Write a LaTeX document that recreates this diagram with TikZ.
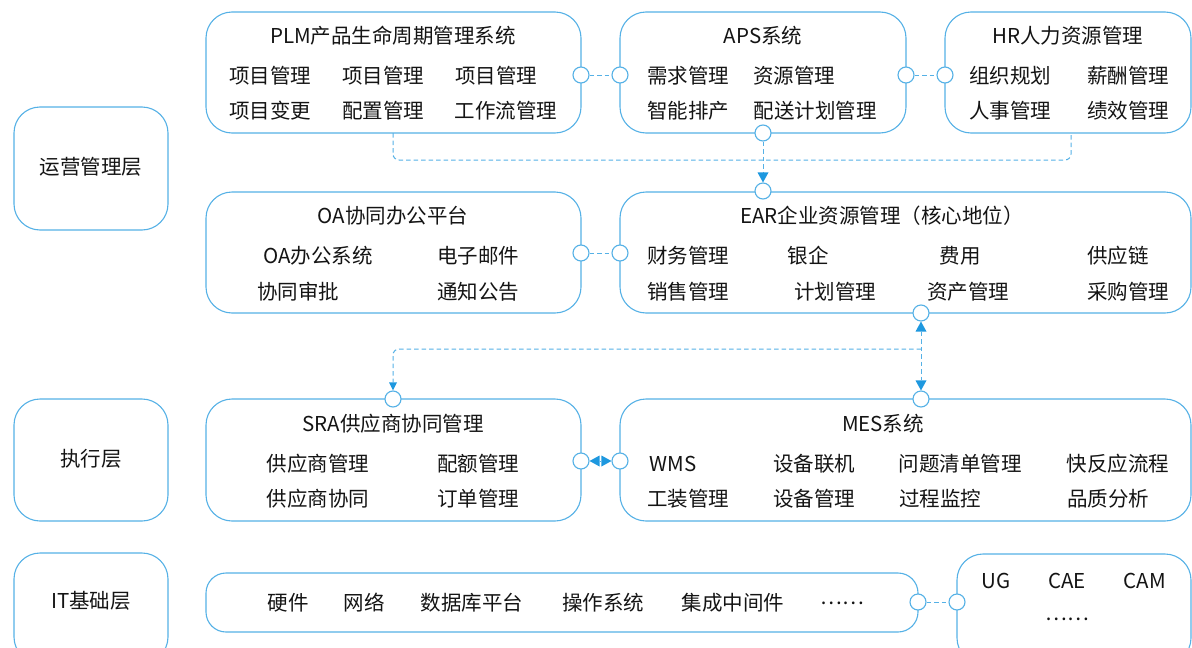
\documentclass[tikz,border=0pt]{standalone}
\usepackage{fontspec}
\setmainfont{Noto Sans CJK SC}
\usetikzlibrary{arrows.meta}
\definecolor{bl}{HTML}{55B1E6}
\definecolor{ar}{HTML}{1E98DF}
\definecolor{tk}{HTML}{141414}
\begin{document}
\begin{tikzpicture}[x=1pt,y=-1pt,
  box/.style={draw=bl, line width=1.1pt, rounded corners=26pt, fill=white, rectangle, inner sep=0pt},
  port/.style={circle, draw=bl, fill=white, line width=1.1pt, minimum size=16pt, inner sep=0pt},
  link/.style={draw=bl, dash pattern=on 4.5pt off 3pt, line width=1pt},
  tipa/.style={-{Triangle[width=11pt,length=10pt,fill=ar,color=ar,line width=0pt]}},
  tipb/.style={{Triangle[width=11pt,length=10pt,fill=ar,color=ar,line width=0pt]}-{Triangle[width=11pt,length=10pt,fill=ar,color=ar,line width=0pt]}},
  tx/.style={font=\fontsize{20.5}{24}\selectfont, text=tk, inner sep=0pt},
  ttl/.style={font=\fontsize{20.5}{24}\selectfont, text=tk, inner sep=0pt}]
\useasboundingbox (0,0) rectangle (1192,648);

% layer labels
\node[box, minimum width=154pt, minimum height=123pt] (l1) at (91,168.5) {};
\node[ttl] (l1t) at (91,167) {运营管理层};
\node[box, minimum width=154pt, minimum height=122pt] (l2) at (91,460) {};
\node[ttl] (l2t) at (91,459) {执行层};
\node[box, minimum width=154pt, minimum height=110pt] (l3) at (91,608) {};
\node[ttl] (l3t) at (91,601) {IT基础层};

% PLM
\node[box, minimum width=375pt, minimum height=121pt] (plm) at (393.5,72.5) {};
\node[ttl] (plmt) at (393,36) {PLM产品生命周期管理系统};
\node[tx] (plm1) at (270,76) {项目管理};
\node[tx] (plm2) at (383,76) {项目管理};
\node[tx] (plm3) at (496,76) {项目管理};
\node[tx] (plm4) at (270,111) {项目变更};
\node[tx] (plm5) at (383,111) {配置管理};
\node[tx] (plm6) at (506,111) {工作流管理};

% APS
\node[box, minimum width=286pt, minimum height=121pt] (aps) at (763,72.5) {};
\node[ttl] (apst) at (763,36) {APS系统};
\node[tx] (aps1) at (688,76) {需求管理};
\node[tx] (aps2) at (794,76) {资源管理};
\node[tx] (aps3) at (688,111) {智能排产};
\node[tx] (aps4) at (815,111) {配送计划管理};

% HR
\node[box, minimum width=246pt, minimum height=121pt] (hr) at (1068,72.5) {};
\node[ttl] (hrt) at (1068,36) {HR人力资源管理};
\node[tx] (hr1) at (1010,76) {组织规划};
\node[tx] (hr2) at (1128,76) {薪酬管理};
\node[tx] (hr3) at (1010,111) {人事管理};
\node[tx] (hr4) at (1128,111) {绩效管理};

% OA
\node[box, minimum width=375pt, minimum height=121pt] (oa) at (393.5,252.5) {};
\node[ttl] (oat) at (393,216) {OA协同办公平台};
\node[tx] (oa1) at (318,256) {OA办公系统};
\node[tx] (oa2) at (478,256) {电子邮件};
\node[tx] (oa3) at (298,292) {协同审批};
\node[tx] (oa4) at (478,292) {通知公告};

% EAR
\node[box, minimum width=571pt, minimum height=121pt] (ear) at (905.5,252.5) {};
\node[ttl] (eart) at (882,216) {EAR企业资源管理（核心地位）};
\node[tx] (ear1) at (688,256) {财务管理};
\node[tx] (ear2) at (808,256) {银企};
\node[tx] (ear3) at (960,256) {费用};
\node[tx] (ear4) at (1118,256) {供应链};
\node[tx] (ear5) at (688,292) {销售管理};
\node[tx] (ear6) at (835,292) {计划管理};
\node[tx] (ear7) at (968,292) {资产管理};
\node[tx] (ear8) at (1128,292) {采购管理};

% SRA
\node[box, minimum width=375pt, minimum height=122pt] (sra) at (393.5,460) {};
\node[ttl] (srat) at (393,424) {SRA供应商协同管理};
\node[tx] (sra1) at (318,464) {供应商管理};
\node[tx] (sra2) at (478,464) {配额管理};
\node[tx] (sra3) at (318,499) {供应商协同};
\node[tx] (sra4) at (478,499) {订单管理};

% MES
\node[box, minimum width=571pt, minimum height=122pt] (mes) at (905.5,460) {};
\node[ttl] (mest) at (883,424) {MES系统};
\node[tx] (mes1) at (673,464) {WMS};
\node[tx] (mes2) at (814,464) {设备联机};
\node[tx] (mes3) at (960,464) {问题清单管理};
\node[tx] (mes4) at (1118,464) {快反应流程};
\node[tx] (mes5) at (688,499) {工装管理};
\node[tx] (mes6) at (814,499) {设备管理};
\node[tx] (mes7) at (940,499) {过程监控};
\node[tx] (mes8) at (1108,499) {品质分析};

% IT
\node[box, rounded corners=20pt, minimum width=712pt, minimum height=59pt] (it) at (562,602.5) {};
\node[tx] (it1) at (288,603) {硬件};
\node[tx] (it2) at (364,603) {网络};
\node[tx] (it3) at (472,603) {数据库平台};
\node[tx] (it4) at (603,603) {操作系统};
\node[tx] (it5) at (733,603) {集成中间件};
\node[tx] (it6) at (842,603) {……};

% UG
\node[box, minimum width=234pt, minimum height=110pt] (ug) at (1074,609) {};
\node[tx] (ug1) at (996,581) {UG};
\node[tx] (ug2) at (1067,581) {CAE};
\node[tx] (ug3) at (1145,581) {CAM};
\node[tx] (ug4) at (1067,619) {……};

% dashed connectors (drawn under ports)
\coordinate (plmb) at (393,133);
\coordinate (hrb) at (1071,133);
\coordinate (j1) at (921,349);
\draw[link, rounded corners=6pt] (plmb) -- (393,160) -- (1071,160) -- (hrb);

% ports
\node[port] (pplm) at (581,75) {};
\node[port] (papsw) at (620,75) {};
\node[port] (papse) at (906,75) {};
\node[port] (phr) at (945,75) {};
\node[port] (papss) at (763,133) {};
\node[port] (pearn) at (763,191) {};
\node[port] (poa) at (581,253) {};
\node[port] (pearw) at (620,253) {};
\node[port] (pears) at (921,313) {};
\node[port] (pmesn) at (921,399) {};
\node[port] (psran) at (393,399) {};
\node[port] (psrae) at (581,461) {};
\node[port] (pmesw) at (620,461) {};
\node[port] (pit) at (918,602) {};
\node[port] (pug) at (957,602) {};

\draw[link] (pplm) -- (papsw);
\draw[link] (papse) -- (phr);
\draw[link] (poa) -- (pearw);
\draw[link] (pit) -- (pug);
\draw[link, tipa] (papss) -- (pearn);
\draw[link, tipb] (pears) -- (pmesn);
\draw[link, rounded corners=6pt, -{Triangle[width=8pt,length=8pt,fill=ar,color=ar,line width=0pt]}] (j1) -- (393,349) -- (psran);
\draw[link, tipb] (psrae) -- (pmesw);
\end{tikzpicture}
\end{document}
